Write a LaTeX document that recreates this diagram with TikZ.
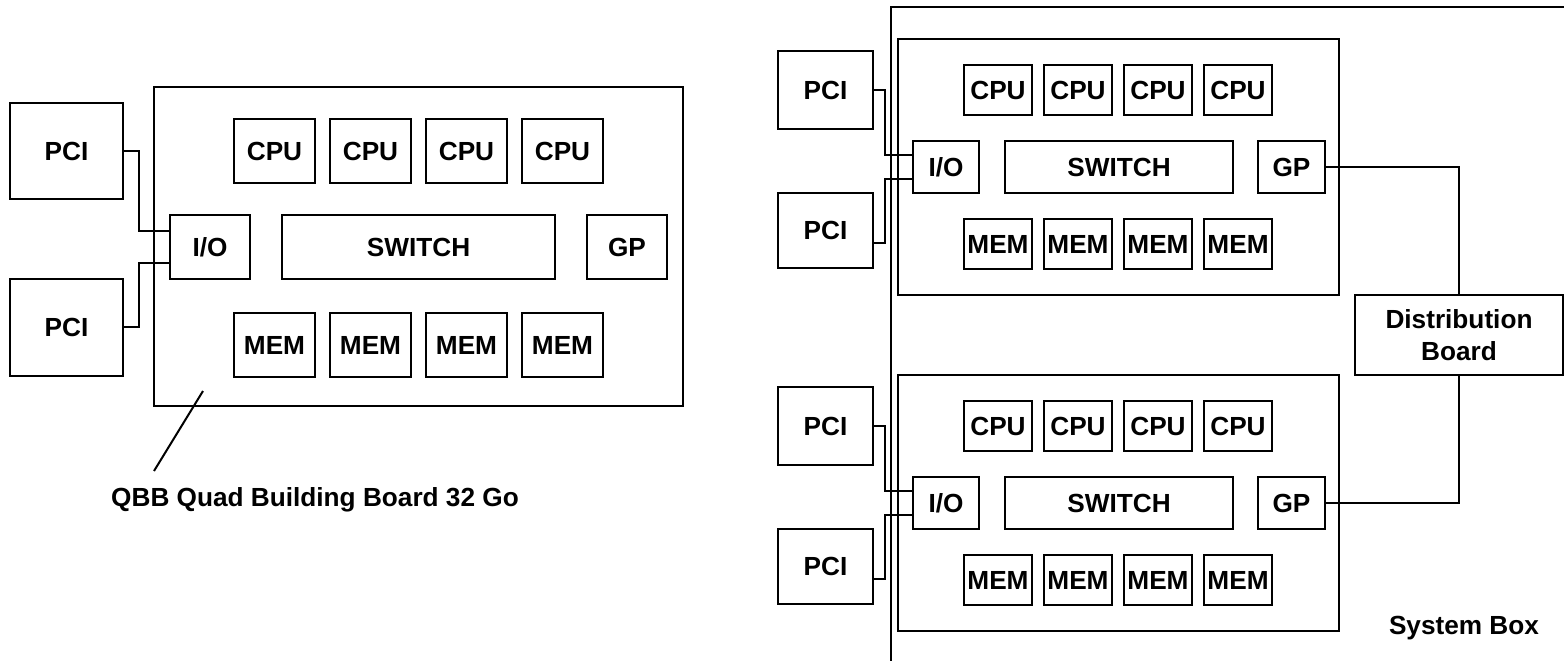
\documentclass[tikz,border=0pt]{standalone}
\usepackage{fontspec}
\setmainfont{Liberation Sans}
\begin{document}
\begin{tikzpicture}[x=1pt,y=-1pt,
  line width=2pt,
  lbl/.style={font=\fontsize{26.2}{31.6}\selectfont\bfseries, inner sep=0pt},
  box/.style={draw, lbl, outer sep=0pt, align=center},
  wire/.style={draw, line width=2pt}]
\useasboundingbox (0,0) rectangle (1564,661);
% box from corner (x1,y1) to corner (x2,y2)
\newcommand\boxnode[6]{\node[box, minimum width={(#4)-(#2)}, minimum height={(#5)-(#3)}] (#1) at ({((#2)+(#4))/2},{((#3)+(#5))/2}) {#6};}

% ---------- single quad building board ----------
\boxnode{qbb}{154}{87}{683}{406}{}
\boxnode{lpciA}{10}{103}{123}{199}{PCI}
\boxnode{lpciB}{10}{279}{123}{376}{PCI}
\boxnode{lio}{170}{215}{250}{279}{I/O}
\boxnode{lsw}{282}{215}{555}{279}{SWITCH}
\boxnode{lgp}{587}{215}{667}{279}{GP}
\foreach \i/\x in {1/234,2/330,3/426,4/522}{
  \boxnode{lcpu\i}{\x}{119}{\x+81}{183}{CPU}
  \boxnode{lmem\i}{\x}{313}{\x+81}{377}{MEM}
}
\draw[wire] (lpciA.east) -- (139,151) -- (139,231) -- (lio.west |- 0,231);
\draw[wire] (lio.west |- 0,263) -- (139,263) -- (139,327) -- (lpciB.east |- 0,327);
\coordinate (ltip) at (203,391);
\node[lbl] (qbblabel) at (315,500) {QBB Quad Building Board 32 Go};
\draw[wire] (ltip) -- (154,471);

% ---------- system box ----------
\draw[wire] (891,661) -- (891,7) -- (1564,7);
\boxnode{dist}{1355}{295}{1563}{375}{Distribution\\Board}
\node[lbl] (syslabel) at (1464,628) {System Box};

\foreach \k/\o in {u/0,d/336}{
  \boxnode{brd\k}{898}{39+\o}{1339}{295+\o}{}
  \boxnode{pciA\k}{778}{51+\o}{873}{129+\o}{PCI}
  \boxnode{pciB\k}{778}{193+\o}{873}{268+\o}{PCI}
  \boxnode{io\k}{913}{141+\o}{979}{193+\o}{I/O}
  \boxnode{sw\k}{1005}{141+\o}{1233}{193+\o}{SWITCH}
  \boxnode{gp\k}{1258}{141+\o}{1325}{193+\o}{GP}
  \foreach \i/\x in {1/964,2/1044,3/1124,4/1204}{
    \boxnode{cpu\k\i}{\x}{65+\o}{\x+68}{115+\o}{CPU}
    \boxnode{mem\k\i}{\x}{219+\o}{\x+68}{269+\o}{MEM}
  }
  \draw[wire] (pciA\k.east |- 0,90+\o) -- (885,90+\o) -- (885,155+\o) -- (io\k.west |- 0,155+\o);
  \draw[wire] (io\k.west |- 0,179+\o) -- (885,179+\o) -- (885,243+\o) -- (pciB\k.east |- 0,243+\o);
}
\draw[wire] (gpu.east) -- (gpu.east -| dist.north) -- (dist.north);
\draw[wire] (gpd.east) -- (gpd.east -| dist.south) -- (dist.south);
\end{tikzpicture}
\end{document}
